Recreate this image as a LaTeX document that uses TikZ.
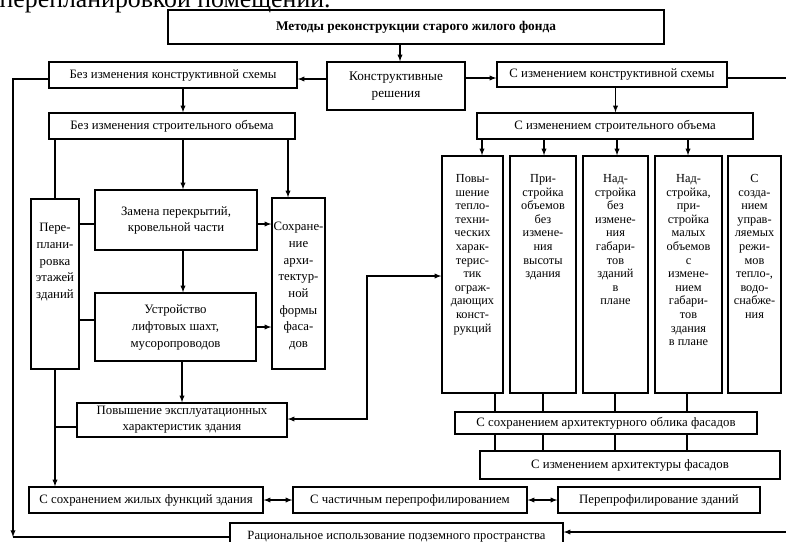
\documentclass[tikz,border=0pt]{standalone}
\usepackage{fontspec}
\setmainfont{Liberation Serif}
\newcommand{\coltext}[4]{\parbox[c][#1][t]{#2}{\centering\vspace*{#3}\strut #4}}
\begin{document}
\begin{tikzpicture}[x=1pt, y=-1pt, line width=1.3pt,
    box/.style={draw, inner sep=1pt, align=center, font=\fontsize{12.8}{16}\selectfont},
    colbox/.style={draw, inner sep=0pt, font=\fontsize{12.3}{13.6}\selectfont},
    sidebox/.style={draw, inner sep=0pt, font=\fontsize{12.8}{16.7}\selectfont},
    arr/.style={-latex}, darr/.style={latex-latex}]
    \useasboundingbox (0,0) rectangle (786,541);
    \clip (0,0) rectangle (786,541);
    % line of the page text, cut at the top of the scan
    \node[anchor=base west, inner sep=0pt, font=\fontsize{25.8}{30}\selectfont] (pagetext) at (-1,7) {перепланировкой помещений.};
    % upper part
    \node[box, minimum width=496pt, minimum height=34pt, font=\bfseries\fontsize{13.3}{15}\selectfont] (metody) at (416,27) {Методы реконструкции старого жилого фонда};
    \node[box, minimum width=138pt, minimum height=48pt, font=\fontsize{13.2}{17}\selectfont] (kr) at (396,86) {Конструктивные\\решения};
    \node[box, minimum width=248pt, minimum height=26pt] (bkc) at (173,75) {Без изменения конструктивной схемы};
    \node[box, minimum width=230pt, minimum height=25pt] (skc) at (612,74.5) {С изменением конструктивной схемы};
    \node[box, minimum width=246pt, minimum height=26pt] (bso) at (172,126) {Без изменения строительного объема};
    \node[box, minimum width=276pt, minimum height=26pt] (sso) at (615,126) {С изменением строительного объема};
    % left half
    \node[sidebox] (pere) at (55,284) {\coltext{170pt}{48pt}{21pt}{Пере-\\плани-\\ровка\\этажей\\зданий}};
    \node[box, minimum width=162pt, minimum height=60pt] (zam) at (176,220) {Замена перекрытий,\\кровельной части};
    \node[box, minimum width=161pt, minimum height=68pt, font=\fontsize{12.8}{17}\selectfont] (ustr) at (175.5,327) {Устройство\\лифтовых шахт,\\мусоропроводов};
    \node[sidebox] (sohr) at (298.5,283.5) {\coltext{171pt}{53pt}{21pt}{Сохране-\\ние\\архи-\\тектур-\\ной\\формы\\фаса-\\дов}};
    \node[box, minimum width=210pt, minimum height=34pt] (expl) at (182,420) {Повышение эксплуатационных\\характеристик здания};
    % right half
    \node[colbox] (c1) at (472.5,274.5) {\coltext{237pt}{61pt}{17pt}{Повы-\\шение\\тепло-\\техни-\\ческих\\харак-\\терис-\\тик\\ограж-\\дающих\\конст-\\рукций}};
    \node[colbox] (c2) at (543,274.5) {\coltext{237pt}{66pt}{17pt}{При-\\стройка\\объемов\\без\\измене-\\ния\\высоты\\здания}};
    \node[colbox] (c3) at (615.5,274.5) {\coltext{237pt}{65pt}{17pt}{Над-\\стройка\\без\\измене-\\ния\\габари-\\тов\\зданий\\в\\плане}};
    \node[colbox] (c4) at (688.5,274.5) {\coltext{237pt}{67pt}{17pt}{Над-\\стройка,\\при-\\стройка\\малых\\объемов\\с\\измене-\\нием\\габари-\\тов\\здания\\в плане}};
    \node[colbox] (c5) at (754.5,274.5) {\coltext{237pt}{53pt}{17pt}{С\\созда-\\нием\\управ-\\ляемых\\режи-\\мов\\тепло-,\\водо-\\снабже-\\ния}};
    \node[box, minimum width=302pt, minimum height=22pt] (sao) at (606,423) {С сохранением архитектурного облика фасадов};
    \node[box, minimum width=300pt, minimum height=28pt] (sia) at (630,465) {С изменением архитектуры фасадов};
    % bottom rows
    \node[box, minimum width=234pt, minimum height=26pt] (szf) at (146,500) {С сохранением жилых функций здания};
    \node[box, minimum width=234pt, minimum height=26pt] (chp) at (410,500) {С частичным перепрофилированием};
    \node[box, minimum width=202pt, minimum height=26pt] (prz) at (659,500) {Перепрофилирование зданий};
    \node[box, minimum width=333pt, minimum height=28pt, font=\fontsize{12.6}{15}\selectfont] (rac) at (396.5,537) {Рациональное использование подземного пространства};
    \coordinate (lowleft) at (13,537);
    \coordinate (rightout) at (786,78);
    \coordinate (rightin) at (786,532);
    \coordinate (bend) at (367,276);
    % connectors
    \draw[arr] (metody.south -| 400,0) -- (kr.north -| 400,0);
    \draw[arr] (kr.west |- 0,79) -- (bkc.east |- 0,79);
    \draw[arr] (kr.east |- 0,78) -- (skc.west |- 0,78);
    \draw (skc.east |- rightout) -- (rightout);
    \draw[arr] (bkc.west |- 0,79) -| (lowleft);
    \draw (lowleft) -- (rac.west);
    \draw[arr] (rightin) -- (rac.east |- rightin);
    \draw[arr] (bkc.south -| 183,0) -- (bso.north -| 183,0);
    \draw[arr] (skc.south -| c3) -- (sso.north -| c3);
    \foreach \x in {482,544,617,688}
        \draw[arr] (sso.south -| \x,0) -- (c1.north -| \x,0);
    \foreach \x in {495,543,615,687} {
        \draw (c1.south -| \x,0) -- (sao.north -| \x,0);
        \draw (sao.south -| \x,0) -- (sia.north -| \x,0);
    }
    \draw (bso.south -| pere) -- (pere.north);
    \draw[arr] (bso.south -| 183,0) -- (zam.north -| 183,0);
    \draw[arr] (bso.south -| 288,0) -- (sohr.north -| 288,0);
    \draw (pere.east |- 0,224) -- (zam.west |- 0,224);
    \draw[arr] (zam.east |- 0,224) -- (sohr.west |- 0,224);
    \draw[arr] (zam.south -| 183,0) -- (ustr.north -| 183,0);
    \draw (pere.east |- 0,320) -- (ustr.west |- 0,320);
    \draw[arr] (ustr.east |- 0,327) -- (sohr.west |- 0,327);
    \draw[arr] (ustr.south -| 182,0) -- (expl.north -| 182,0);
    \draw[arr] (pere.south) -- (szf.north -| pere.south);
    \draw (expl.west |- 0,427) -- (pere |- 0,427);
    \draw[darr] (expl.east |- 0,419) -| (bend) -- (c1.west |- bend);
    \draw[darr] (szf.east) -- (chp.west);
    \draw[darr] (chp.east) -- (prz.west);
\end{tikzpicture}
\end{document}
